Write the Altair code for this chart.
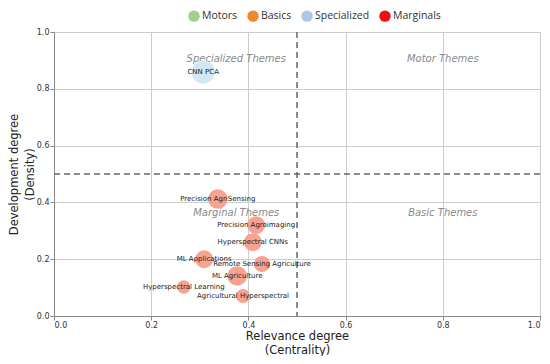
import altair as alt
import pandas as pd

themes = ["CNN PCA", "Precision AgriSensing", "Precision Agroimaging", "Hyperspectral CNNs",
          "ML Applications", "Remote Sensing Agriculture", "ML Agriculture",
          "Hyperspectral Learning", "Agricultural Hyperspectral"]
centrality = [0.307, 0.337, 0.416, 0.409, 0.309, 0.428, 0.377, 0.267, 0.389]
density = [0.859, 0.412, 0.320, 0.260, 0.200, 0.183, 0.141, 0.102, 0.070]
sizes = [540, 380, 320, 320, 320, 260, 380, 180, 200]
groups = ["Specialized", "Marginals", "Marginals", "Marginals", "Marginals",
          "Marginals", "Marginals", "Marginals", "Marginals"]

legend_names = ["Motors", "Basics", "Specialized", "Marginals"]
legend_colors = ["#9fd18b", "#ee8a2e", "#adc6ea", "#ee1111"]
point_colors = ["#c8e6c0", "#f7c49a", "#d3e8f0", "#f7a391"]

quad_labels = ["Specialized Themes", "Motor Themes", "Marginal Themes", "Basic Themes"]
quad_x = [0.375, 0.80, 0.375, 0.80]
quad_y = [0.905, 0.905, 0.363, 0.363]

df = pd.DataFrame({"theme": themes, "x": centrality, "y": density, "size": sizes, "group": groups})
qdf = pd.DataFrame({"label": quad_labels, "x": quad_x, "y": quad_y})
legdf = pd.DataFrame({"group": legend_names, "x": [0.5] * 4, "y": [0.5] * 4})

xscale = alt.Scale(domain=[0, 1], nice=False, zero=False)
yscale = alt.Scale(domain=[0, 1], nice=False, zero=False)

common = dict(values=[0, 0.2, 0.4, 0.6, 0.8, 1.0], format=".1f", labelFontSize=8,
              labelColor="#333", titleFontSize=11.5, titleFontWeight="normal", titleColor="#222",
              titleFont="DejaVu Sans", labelFont="DejaVu Sans", gridColor="#cccccc",
              domainColor="#888", tickColor="#888", tickSize=4, labelPadding=1)
xaxis = alt.Axis(title=["Relevance degree", "(Centrality)"], titlePadding=1,
                 titleLineHeight=14, **common)
yaxis = alt.Axis(title=["Development degree", "(Density)"], titlePadding=1,
                 titleLineHeight=15.5, **common)

# invisible layer that carries the legend
legend_layer = alt.Chart(legdf).mark_circle(opacity=0).encode(
    x=alt.X("x:Q", scale=xscale, axis=xaxis),
    y=alt.Y("y:Q", scale=yscale, axis=yaxis),
    color=alt.Color("group:N",
                    scale=alt.Scale(domain=legend_names, range=legend_colors),
                    legend=alt.Legend(title=None, orient="none", direction="horizontal",
                                      legendX=134, legendY=-22, symbolType="circle",
                                      symbolSize=130, symbolOpacity=1, symbolStrokeWidth=0,
                                      labelFontSize=10.5, labelFont="Open Sans", labelColor="#333",
                                      labelOffset=2, columnPadding=9)),
)

vline = alt.Chart(pd.DataFrame({"v": [0.5]})).mark_rule(
    strokeDash=[6, 4], color="#666", strokeWidth=1.5).encode(x=alt.X("v:Q", scale=xscale))
hline = alt.Chart(pd.DataFrame({"v": [0.5]})).mark_rule(
    strokeDash=[6, 4], color="#666", strokeWidth=1.5).encode(y=alt.Y("v:Q", scale=yscale))

quads = alt.Chart(qdf).mark_text(fontStyle="italic", fontSize=10, color="#8a8a8a",
                                 font="DejaVu Sans").encode(
    x=alt.X("x:Q", scale=xscale), y=alt.Y("y:Q", scale=yscale), text="label:N")

points = alt.Chart(df).mark_circle(opacity=1).encode(
    x=alt.X("x:Q", scale=xscale),
    y=alt.Y("y:Q", scale=yscale),
    size=alt.Size("size:Q", scale=None, legend=None),
    color=alt.Color("group:N", scale=alt.Scale(domain=legend_names, range=point_colors), legend=None),
)

labels = alt.Chart(df).mark_text(fontSize=7, color="#222", font="DejaVu Sans").encode(
    x=alt.X("x:Q", scale=xscale), y=alt.Y("y:Q", scale=yscale), text="theme:N")

chart = alt.layer(legend_layer, vline, hline, quads, points, labels).resolve_scale(
    color="independent"
).properties(
    width=486, height=284,
    autosize=alt.AutoSizeParams(type="none"),
    padding={"left": 46, "top": 24, "right": 2, "bottom": 40},
).configure_view(stroke="#888", strokeWidth=1).configure(background="white")

chart.save("out.html", embed_options={"renderer": "svg", "actions": False})
